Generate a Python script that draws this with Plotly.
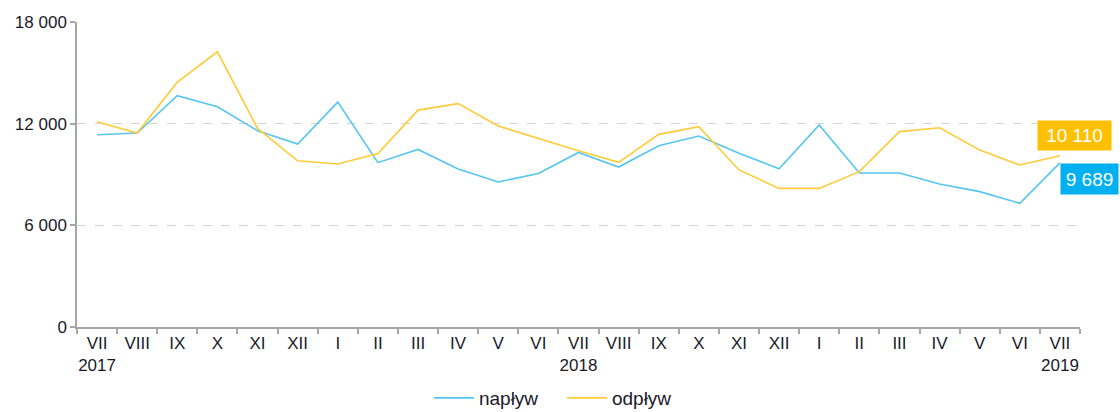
import plotly.graph_objects as go

months = ["VII", "VIII", "IX", "X", "XI", "XII", "I", "II", "III", "IV", "V", "VI",
          "VII", "VIII", "IX", "X", "XI", "XII", "I", "II", "III", "IV", "V", "VI", "VII"]
years = {0: "2017", 12: "2018", 24: "2019"}
naplyw = [11350, 11450, 13650, 13000, 11580, 10800, 13270, 9700, 10480, 9320, 8560, 9060,
          10300, 9440, 10700, 11270, 10250, 9340, 11920, 9090, 9090, 8440, 7990, 7300, 9689]
odplyw = [12110, 11450, 14450, 16240, 11720, 9810, 9620, 10240, 12800, 13180, 11860, 11130,
          10400, 9720, 11370, 11820, 9270, 8180, 8180, 9170, 11530, 11760, 10440, 9560, 10110]
y_ticks = [0, 6000, 12000, 18000]
y_ticktext = ["0", "6 000", "12 000", "18 000"]

x = list(range(len(months)))
ticktext = [m + ("<br>" + years[i] if i in years else "") for i, m in enumerate(months)]

BLUE_LINE = "#55C6F0"
YEL_LINE = "#FFCB3A"
BLUE_BOX = "#00B0F0"
YEL_BOX = "#FFC000"
FONT = "Liberation Sans, Arial, sans-serif"

fig = go.Figure()
fig.add_trace(go.Scatter(x=x, y=naplyw, mode="lines", name="napływ",
                         line=dict(color=BLUE_LINE, width=1.6)))
fig.add_trace(go.Scatter(x=x, y=odplyw, mode="lines", name="odpływ",
                         line=dict(color=YEL_LINE, width=1.6)))

fig.add_annotation(x=x[-1], y=odplyw[-1], xref="x", yref="y",
                   text="10 110", showarrow=False,
                   font=dict(family=FONT, size=19, color="white"),
                   bgcolor=YEL_BOX, width=69, height=25, borderpad=2,
                   xanchor="center", yanchor="middle", xshift=15, yshift=20)
fig.add_annotation(x=x[-1], y=naplyw[-1], xref="x", yref="y",
                   text="9 689", showarrow=False,
                   font=dict(family=FONT, size=19, color="white"),
                   bgcolor=BLUE_BOX, width=53, height=26, borderpad=2,
                   xanchor="left", yanchor="middle", xshift=0, yshift=-16)

fig.update_layout(
    width=1120, height=412,
    margin=dict(l=77, r=40, t=22, b=85, autoexpand=False),
    paper_bgcolor="white", plot_bgcolor="white",
    font=dict(family=FONT, size=17, color="#1a1a2a"),
    showlegend=True,
    legend=dict(orientation="h", x=0.4835, xanchor="center",
                yref="container", y=0.034, yanchor="middle",
                font=dict(size=19, color="#1a1a2a"), itemwidth=40,
                entrywidth=78, entrywidthmode="pixels",
                bgcolor="rgba(0,0,0,0)"),
)
fig.update_xaxes(
    type="linear", range=[-0.5, len(months) - 0.5], automargin=False,
    tickmode="array", tickvals=x, ticktext=ticktext,
    showgrid=False, zeroline=False,
    showline=True, linecolor="#a6a6a6", linewidth=1.5,
    ticks="", tickfont=dict(size=17),
)
fig.update_xaxes(minor=dict(tickmode="array", tickvals=[i - 0.5 for i in range(len(months) + 1)],
                            ticks="outside", ticklen=5, tickcolor="#a6a6a6", tickwidth=1.5,
                            showgrid=False))
fig.update_yaxes(
    range=[0, 18000], automargin=False, tickmode="array", tickvals=y_ticks, ticktext=y_ticktext,
    showgrid=True, gridcolor="#d4d4d4", griddash="dash", gridwidth=1,
    zeroline=False, showline=True, linecolor="#a6a6a6", linewidth=1.5,
    ticks="outside", ticklen=5, tickcolor="#a6a6a6", tickwidth=1.5,
    tickfont=dict(size=17),
)

fig.write_html("out.html", config={"displayModeBar": False},
               post_script="document.body.style.margin='0';document.body.style.overflow='hidden';")
